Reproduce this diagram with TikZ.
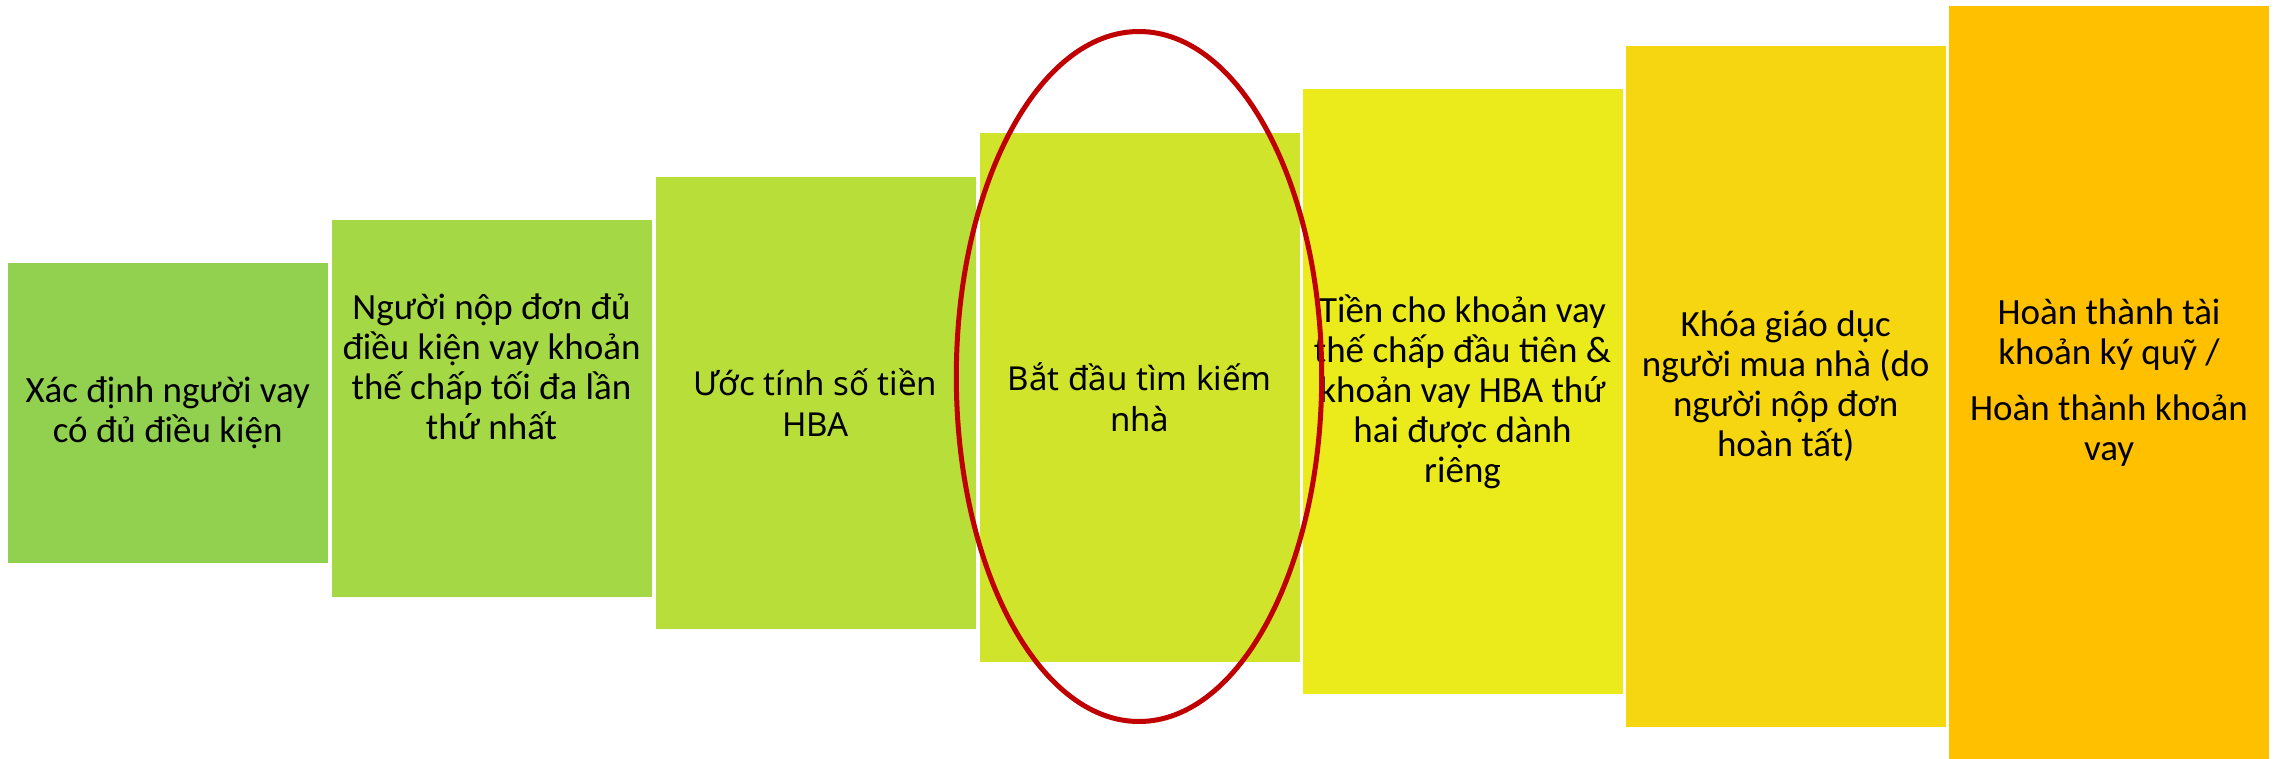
\documentclass[tikz,border=0pt]{standalone}
\usepackage{fontspec}
\setmainfont{Carlito}
\newfontfamily\notosans{Noto Sans}
\usetikzlibrary{shapes.geometric}

\definecolor{stepa}{HTML}{92D050}
\definecolor{stepb}{HTML}{A4D945}
\definecolor{stepc}{HTML}{B8DE3A}
\definecolor{stepd}{HTML}{D1E42C}
\definecolor{stepe}{HTML}{EBEB1B}
\definecolor{stepf}{HTML}{F5D611}
\definecolor{stepg}{HTML}{FFC000}
\definecolor{ringred}{HTML}{C00000}

\begin{document}
\begin{tikzpicture}[x=0.5pt,y=-0.5pt,
  stepbox/.style={rectangle,inner sep=0pt,outer sep=0pt,minimum width=160pt,align=center,font=\fontsize{18.5}{20}\selectfont},
  widebox/.style={stepbox,font=\notosans\fontsize{16.5}{20.5}\selectfont},
  steptext/.style={align=center,inner sep=0pt,font=\fontsize{18.5}{20}\selectfont},
  ring/.style={ellipse,draw=ringred,line width=2.5pt,inner sep=0pt,minimum width=182.7pt,minimum height=345pt}]

\useasboundingbox (0,0) rectangle (2275,759);

% the seven steps, growing to the right
\node[stepbox,fill=stepa,minimum height=150pt]   (s1) at (167.75,413)  {Xác định người vay\\có đủ điều kiện};
\node[stepbox,fill=stepb,minimum height=188.5pt] (s2) at (491.5,408.5) {};
\node[steptext] (t2) at (491.5,367) {Người nộp đơn đủ\\điều kiện vay khoản\\thế chấp tối đa lần\\thứ nhất};
\node[widebox,fill=stepc,minimum height=226pt]   (s3) at (815.5,403)   {Ước tính số tiền\\HBA};
\node[widebox,fill=stepd,minimum height=264.5pt] (s4) at (1139.75,397.5) {Bắt đầu tìm kiếm\\nhà};
\node[stepbox,fill=stepe,minimum height=302.25pt] (s5) at (1462.5,391.75) {Tiền cho khoản vay\\thế chấp đầu tiên \&\\khoản vay HBA thứ\\hai được dành\\riêng};
\node[stepbox,fill=stepf,minimum height=340.5pt] (s6) at (1785.75,386.5) {Khóa giáo dục\\người mua nhà (do\\người nộp đơn\\hoàn tất)};
\node[stepbox,fill=stepg,minimum height=376.5pt] (s7) at (2109,382.5)  {Hoàn thành tài\\khoản ký quỹ /\\[8pt]Hoàn thành khoản\\vay};

% highlight round the house search
\node[ring] (hl) at (1139,376.5) {};

\end{tikzpicture}
\end{document}
